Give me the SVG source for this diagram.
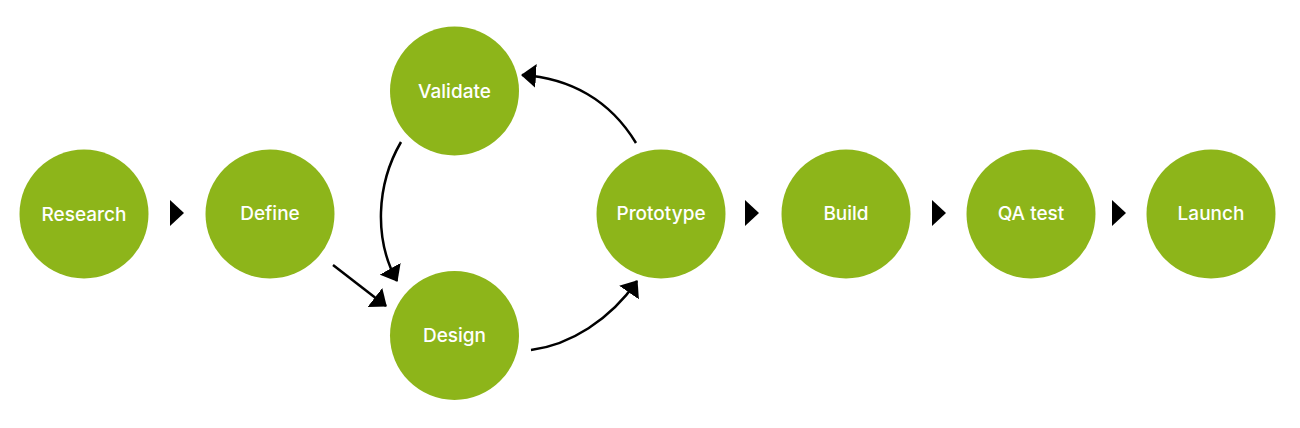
<svg xmlns="http://www.w3.org/2000/svg" width="1300" height="428" viewBox="0 0 1300 428">
<style>
.node circle{fill:#8db51a}
.node text{fill:#ffffff;font-family:Inter,"Liberation Sans",sans-serif;font-size:19px;font-weight:500;text-anchor:middle}
.conn{fill:none;stroke:#000;stroke-width:2.5}
.tri{fill:#000}
</style>
<defs>
<marker id="ah" viewBox="0 0 15 24" markerWidth="15" markerHeight="24" refX="14" refY="12" orient="auto" markerUnits="userSpaceOnUse">
<path d="M0,0 L15,12 L0,24 z" fill="#000"/>
</marker>
</defs>
<g id="connectors">
<polygon class="tri" points="170,200 184,213 170,226"/>
<polygon class="tri" points="745,200 759,213 745,226"/>
<polygon class="tri" points="932,200 946,213 932,226"/>
<polygon class="tri" points="1112,200 1126,213 1112,226"/>
<path class="conn" d="M333,265 L386,306" marker-end="url(#ah)"/>
<path class="conn" d="M401,142 C376,185 374,240 397,281" marker-end="url(#ah)"/>
<path class="conn" d="M531,350 C570,345 610,320 637,281" marker-end="url(#ah)"/>
<path class="conn" d="M636,143 C610,100 570,78 522,75" marker-end="url(#ah)"/>
</g>
<g id="research" class="node"><circle cx="84" cy="214" r="64.5"/><text x="84" y="221">Research</text></g>
<g id="define" class="node"><circle cx="270" cy="214" r="64.5"/><text x="270" y="220">Define</text></g>
<g id="validate" class="node"><circle cx="454.5" cy="91" r="64.5"/><text x="454.5" y="98">Validate</text></g>
<g id="design" class="node"><circle cx="454.5" cy="335.5" r="64.5"/><text x="454.5" y="342">Design</text></g>
<g id="prototype" class="node"><circle cx="661" cy="214" r="64.5"/><text x="661" y="220">Prototype</text></g>
<g id="build" class="node"><circle cx="846" cy="214" r="64.5"/><text x="846" y="220">Build</text></g>
<g id="qa-test" class="node"><circle cx="1031" cy="214" r="64.5"/><text x="1031" y="220">QA test</text></g>
<g id="launch" class="node"><circle cx="1211" cy="214" r="64.5"/><text x="1211" y="220">Launch</text></g>
</svg>
